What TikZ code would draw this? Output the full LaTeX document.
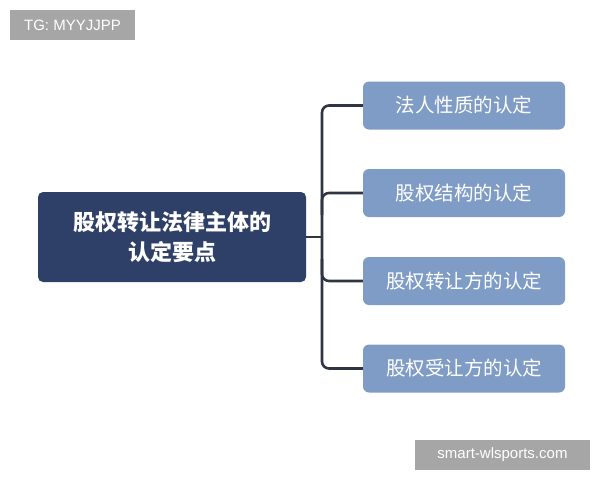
\documentclass[tikz,border=0pt]{standalone}
\usepackage{fontspec}
\setmainfont{Liberation Sans}
\newfontfamily\cjk{Noto Sans CJK SC}
\definecolor{navy}{HTML}{2E4068}
\definecolor{sky}{HTML}{7F9CC6}
\definecolor{wm}{HTML}{A6A6A6}
\definecolor{lnk}{HTML}{2F3542}
\begin{document}
\begin{tikzpicture}[x=1pt,y=-1pt,
  mainbox/.style={fill=navy,rounded corners=5pt,minimum width=268pt,minimum height=90pt,text=white,align=center,font=\cjk\bfseries\fontsize{22}{30}\selectfont,inner sep=0pt},
  subbox/.style={fill=sky,rounded corners=6pt,minimum width=202pt,minimum height=48pt,text=white,font=\cjk\fontsize{19.5}{24}\selectfont,inner sep=0pt},
  wmark/.style={fill=wm,text=white,inner sep=0pt,font=\fontsize{15}{18}\selectfont},
  link/.style={draw=lnk,line width=2.6pt,rounded corners=7pt}]
\useasboundingbox (0,0) rectangle (600,480);
\node[wmark,minimum width=125pt,minimum height=30pt] (tg) at (72.5,25) {TG: MYYJJPP};
\node[wmark,minimum width=175pt,minimum height=30pt] (site) at (502.5,455) {smart-wlsports.com};
\node[mainbox] (main) at (172,237) {股权转让法律主体的\\认定要点};
\node[subbox] (b1) at (464,105.5) {法人性质的认定};
\node[subbox] (b2) at (464,193) {股权结构的认定};
\node[subbox] (b3) at (464,281) {股权转让方的认定};
\node[subbox] (b4) at (464,368.5) {股权受让方的认定};
\coordinate (top) at (322,105.5);
\coordinate (bot) at (322,368.5);
\draw[link] (b1.west) -- (top) -- (bot) -- (b4.west);
\draw[link] (main.east) -- (322,237);
\draw[link] (b2.west) -- (322,193) -- (322,215);
\draw[link] (b3.west) -- (322,281) -- (322,259);
\end{tikzpicture}
\end{document}
